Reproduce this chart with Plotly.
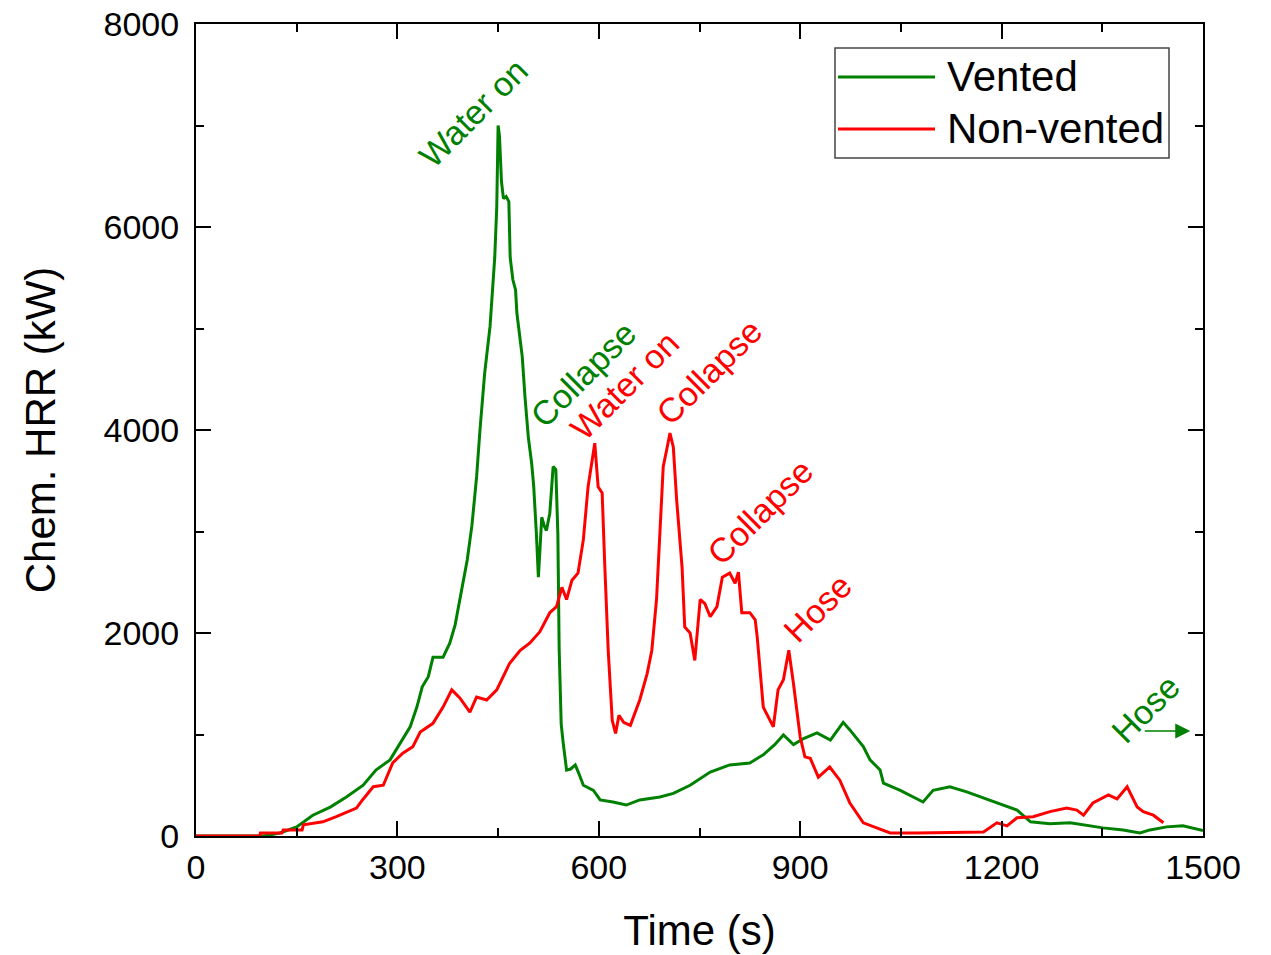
import plotly.graph_objects as go

# ---- data ----
t_vented = [0, 100, 110, 125, 150, 174, 200, 224, 249, 268, 289, 304, 319, 329, 337, 346, 353, 368,
            378, 386, 393, 404, 411, 418, 423, 430, 438, 441, 445, 448, 450, 452, 455, 458, 462,
            466, 468, 472, 476, 478, 486, 490, 495, 500, 503, 507, 510, 513, 515, 519, 522, 527,
            532, 536, 539, 541, 544, 547, 552, 558, 565, 570, 577, 592, 602, 621, 641, 661, 691,
            711, 736, 766, 795, 825, 845, 862, 875, 890, 905, 925, 945, 964, 974, 994, 1004, 1019,
            1024, 1049, 1083, 1098, 1123, 1148, 1173, 1203, 1223, 1243, 1272, 1302, 1322, 1351,
            1381, 1406, 1421, 1446, 1470, 1496, 1500]
hrr_vented = [0, 0, 10, 30, 90, 205, 285, 385, 500, 650, 750, 915, 1075, 1270, 1470, 1570, 1760, 1760,
              1900, 2080, 2330, 2720, 3060, 3540, 4000, 4560, 5020, 5310, 5700, 6200, 7000, 6900,
              6450, 6280, 6300, 6250, 5700, 5480, 5380, 5150, 4720, 4330, 3930, 3670, 3450, 2980,
              2550, 2900, 3140, 3050, 3010, 3180, 3640, 3610, 2980, 1830, 1100, 915, 650, 660, 700,
              620, 500, 450, 355, 335, 305, 355, 385, 420, 500, 630, 700, 720, 800, 900, 995, 900,
              960, 1015, 945, 1120, 1045, 880, 750, 650, 520, 450, 335, 450, 485, 435, 375, 305,
              255, 140, 120, 130, 110, 80, 60, 30, 60, 90, 100, 60, 55]

t_nonvented = [0, 95, 96, 128, 130, 158, 160, 189, 209, 239, 248, 264, 279, 293, 308, 323, 334, 353,
               368, 381, 393, 408, 418, 433, 448, 467, 483, 497, 512, 527, 537, 545, 552, 560, 569,
               577, 584, 590, 594, 599, 605, 609, 614, 620, 625, 630, 637, 647, 661, 672, 679, 686,
               691, 696, 701, 706, 711, 716, 724, 728, 736, 743, 751, 758, 766, 776, 784, 795, 803,
               808, 813, 825, 833, 836, 845, 860, 867, 875, 883, 890, 900, 907, 915, 927, 944, 959,
               974, 994, 1014, 1034, 1074, 1123, 1173, 1193, 1208, 1223, 1247, 1272, 1297, 1312,
               1322, 1336, 1359, 1372, 1387, 1402, 1411, 1426, 1441]
hrr_nonvented = [0, 0, 30, 30, 60, 60, 110, 140, 190, 275, 355, 485, 500, 720, 815, 880, 1025, 1110,
                 1270, 1440, 1360, 1220, 1370, 1340, 1440, 1700, 1830, 1900, 2010, 2200, 2260, 2450,
                 2330, 2520, 2590, 2920, 3440, 3730, 3870, 3440, 3380, 2650, 1830, 1140, 1010, 1190,
                 1120, 1090, 1340, 1600, 1830, 2330, 2980, 3640, 3800, 3970, 3830, 3310, 2650, 2060,
                 2000, 1730, 2330, 2290, 2160, 2260, 2550, 2590, 2490, 2600, 2200, 2200, 2130, 1960,
                 1270, 1075, 1440, 1540, 1830, 1500, 975, 780, 765, 580, 680, 550, 325, 130, 80, 30,
                 30, 35, 40, 130, 100, 180, 190, 240, 275, 255, 205, 325, 405, 365, 485, 285, 240,
                 205, 130]

series_names = ["Vented", "Non-vented"]
x_ticks = [0, 300, 600, 900, 1200, 1500]
y_ticks = [0, 2000, 4000, 6000, 8000]

# event labels: (text, t, hrr, series index)
event_text = ["Water on", "Collapse", "Water on", "Collapse", "Collapse", "Hose", "Hose"]
event_t = [413, 577, 639, 764, 840, 926, 1414]
event_hrr = [7123, 4552, 4443, 4571, 3192, 2246, 1251]
event_series = [0, 0, 1, 1, 1, 1, 0]
arrow_t = [1411, 1481]
arrow_hrr = 1034

GREEN = "#008000"
RED = "#FF0000"
colors = [GREEN, RED]
FONT = "Liberation Sans, Arial, sans-serif"

fig = go.Figure()
fig.add_trace(go.Scatter(x=t_vented, y=hrr_vented, mode="lines", name=series_names[0],
                         line=dict(color=GREEN, width=3), showlegend=False))
fig.add_trace(go.Scatter(x=t_nonvented, y=hrr_nonvented, mode="lines", name=series_names[1],
                         line=dict(color=RED, width=3), showlegend=False))

annotations = []
for txt, tx, ty, s in zip(event_text, event_t, event_hrr, event_series):
    annotations.append(dict(x=tx, y=ty, xref="x", yref="y", text=txt, showarrow=False,
                            textangle=-45, font=dict(family=FONT, size=34, color=colors[s]),
                            xanchor="center", yanchor="middle"))
annotations.append(dict(x=arrow_t[1], y=arrow_hrr, ax=arrow_t[0], ay=arrow_hrr, xref="x", yref="y",
                        axref="x", ayref="y", text="", showarrow=True, arrowhead=2,
                        arrowsize=2, arrowwidth=1.5, arrowcolor=GREEN))

# manual legend (paper coordinates; plot area spans 196..1203 x 24..836 px in the page)
px = lambda v: (v - 196) / 1007.0
py = lambda v: (836 - v) / 812.0
shapes = [
    dict(type="rect", xref="paper", yref="paper", x0=px(835), x1=px(1169), y0=py(158), y1=py(48),
         line=dict(color="#444444", width=1.5), fillcolor="white", layer="above"),
    dict(type="line", xref="paper", yref="paper", x0=px(838), x1=px(935), y0=py(77), y1=py(77),
         line=dict(color=GREEN, width=3)),
    dict(type="line", xref="paper", yref="paper", x0=px(838), x1=px(935), y0=py(129), y1=py(129),
         line=dict(color=RED, width=3)),
]
for name, yy in zip(series_names, [77, 129]):
    annotations.append(dict(x=px(945), y=py(yy), xref="paper", yref="paper", text=name,
                            showarrow=False, xanchor="left", yanchor="middle",
                            font=dict(family=FONT, size=42, color="black")))

axis_common = dict(showgrid=False, zeroline=False, showline=True, linecolor="black", linewidth=2,
                   mirror="allticks", ticks="inside", ticklen=15, tickwidth=2, tickcolor="black",
                   automargin=False, ticklabeloverflow="allow",
                   tickfont=dict(family=FONT, size=34, color="black"))

fig.update_layout(
    width=1271, height=955,
    margin=dict(l=188, r=76, t=16, b=127),
    paper_bgcolor="white", plot_bgcolor="white",
    font=dict(family=FONT, color="black"),
    xaxis=dict(range=[0, 1500], tickvals=x_ticks, ticktext=[str(v) for v in x_ticks],
               title=dict(text="Time (s)", font=dict(family=FONT, size=42), standoff=31),
               minor=dict(dtick=150, tick0=0, ticks="inside", ticklen=8, tickwidth=2, tickcolor="black"),
               **axis_common),
    yaxis=dict(range=[0, 8000], tickvals=y_ticks, ticktext=[str(v) for v in y_ticks],
               ticklabelstandoff=8,
               title=dict(text="Chem. HRR (kW)", font=dict(family=FONT, size=42), standoff=35),
               minor=dict(dtick=1000, tick0=0, ticks="inside", ticklen=8, tickwidth=2, tickcolor="black"),
               **axis_common),
    annotations=annotations,
    shapes=shapes,
    showlegend=False,
)

fig.write_html("out.html")
